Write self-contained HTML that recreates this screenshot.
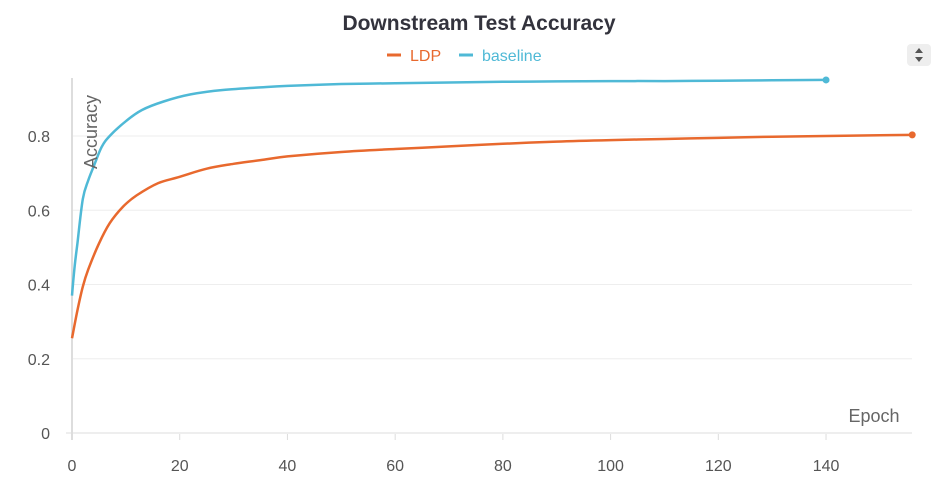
<!DOCTYPE html>
<html><head><meta charset="utf-8"><style>
body{margin:0;background:#fff;width:949px;height:493px;overflow:hidden;font-family:"Liberation Sans",sans-serif}
</style></head><body>
<svg width="949" height="493" xmlns="http://www.w3.org/2000/svg" font-family="Liberation Sans, sans-serif">
<text x="479" y="30" text-anchor="middle" font-size="21" font-weight="bold" fill="#33333d">Downstream Test Accuracy</text>
<g>
<g><line x1="387" y1="55" x2="401" y2="55" stroke="#e8692e" stroke-width="3"/><text x="410" y="61" font-size="16" fill="#e8692e">LDP</text></g>
<g><line x1="459" y1="55" x2="473" y2="55" stroke="#4fb9d6" stroke-width="3"/><text x="482" y="61" font-size="16" fill="#4fb9d6">baseline</text></g>
</g>
<g><rect x="907" y="44" width="24" height="22" rx="4" fill="#eee"/><path d="M915 53 L919 48 L923 53Z M915 57 L919 62 L923 57Z" fill="#555"/></g>
<g id="grid"></g><g id="axes"></g><g id="series"></g>
<text x="874" y="422" text-anchor="middle" font-size="18" fill="#666">Epoch</text>
<text transform="translate(97,132) rotate(-90)" text-anchor="middle" font-size="18" fill="#666">Accuracy</text>
</svg>
<script>
const xTicks=[0,20,40,60,80,100,120,140];
const yTicks=[0,0.2,0.4,0.6,0.8];
const yTickLabels=["0","0.2","0.4","0.6","0.8"];
const ldpEpochs=[0,1,2,3,5,7,9.5,12,16,20,25,30,35,40,50,60,70,80,90,100,110,120,130,140,150,156];
const ldpValues=[0.255,0.33,0.394,0.44,0.51,0.565,0.61,0.64,0.673,0.69,0.712,0.725,0.735,0.745,0.757,0.765,0.772,0.779,0.785,0.789,0.792,0.795,0.798,0.8,0.802,0.803];
const baseEpochs=[0,0.5,1,2,3,4,5.5,7,10,13,17,22,28,35,40,50,60,70,80,90,100,110,120,130,140];
const baseValues=[0.37,0.45,0.51,0.63,0.68,0.717,0.77,0.8,0.84,0.87,0.893,0.912,0.924,0.931,0.935,0.94,0.942,0.944,0.946,0.947,0.948,0.948,0.949,0.95,0.951];
const NS="http://www.w3.org/2000/svg";
const X=e=>72+e*5.386, Y=v=>433-v*371.25;
function mk(t,a,p){const el=document.createElementNS(NS,t);for(const k in a)el.setAttribute(k,a[k]);p.appendChild(el);return el;}
const grid=document.getElementById('grid'),axes=document.getElementById('axes'),ser=document.getElementById('series');
yTicks.forEach((v,i)=>{
 if(v>0){const g=mk('line',{x1:72,x2:912,y1:Y(v),y2:Y(v),stroke:'#eeeeee','stroke-width':1},grid);
 
 }
 const t=mk('text',{x:50,y:Y(v)+6,'text-anchor':'end','font-size':16,fill:'#555'},axes);t.textContent=yTickLabels[i];
 
 
});
xTicks.forEach(e=>{
 const t=mk('text',{x:X(e),y:471,'text-anchor':'middle','font-size':16,fill:'#555'},axes);t.textContent=e;
 
 
 const tk=mk('line',{x1:X(e),x2:X(e),y1:434,y2:440,stroke:'#ddd'},axes);
 
 
});
const ya=mk('line',{x1:72,x2:72,y1:78,y2:440,stroke:'#ddd','stroke-width':2},axes);


const xa=mk('line',{x1:66,x2:912,y1:433,y2:433,stroke:'#ddd','stroke-width':1},axes);


function line(xs,ys,c,name){
 const P=xs.map((e,i)=>[X(e),Y(ys[i])]);
 let d='M'+P[0][0].toFixed(1)+' '+P[0][1].toFixed(1);
 for(let i=0;i<P.length-1;i++){
  const p0=P[Math.max(0,i-1)],p1=P[i],p2=P[i+1],p3=P[Math.min(P.length-1,i+2)];
  const c1=[p1[0]+(p2[0]-p0[0])/6,p1[1]+(p2[1]-p0[1])/6];
  const c2=[p2[0]-(p3[0]-p1[0])/6,p2[1]-(p3[1]-p1[1])/6];
  d+=' C'+c1[0].toFixed(1)+' '+c1[1].toFixed(1)+' '+c2[0].toFixed(1)+' '+c2[1].toFixed(1)+' '+p2[0].toFixed(1)+' '+p2[1].toFixed(1);
 }
 const p=mk('path',{d:d,fill:'none',stroke:c,'stroke-width':2.5,'stroke-linejoin':'round'},ser);
 
 
 const n=xs.length-1;
 const dot=mk('circle',{cx:X(xs[n]),cy:Y(ys[n]),r:3.5,fill:c},ser);
 
 
}
line(ldpEpochs,ldpValues,'#e8692e','ldp');
line(baseEpochs,baseValues,'#4fb9d6','baseline');
</script>
</body></html>
